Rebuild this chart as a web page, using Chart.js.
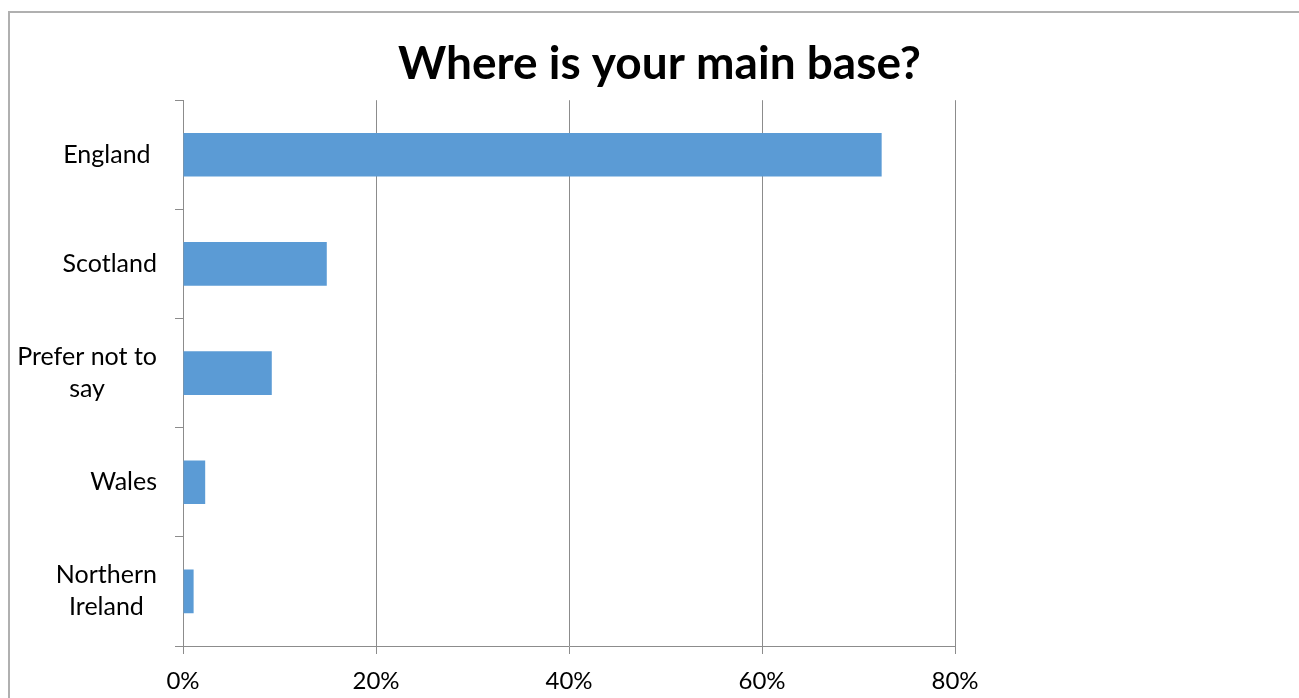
<!DOCTYPE html>
<html>
<head>
<meta charset="utf-8">
<script src="https://cdn.jsdelivr.net/npm/chart.js@4"></script>
<style>
  body { margin: 0; background: #fff; }
  #wrap { position: relative; width: 1299px; height: 698px; overflow: hidden; }
  #frame { position: absolute; left: 8px; top: 11px; width: 1400px; height: 800px;
           border-left: 2px solid #b0b0b0; border-top: 2px solid #b0b0b0; }
  canvas { position: absolute; left: 0; top: 0; }
</style>
</head>
<body>
<div id="wrap">
  <div id="frame"></div>
  <canvas id="baseChart" width="1299" height="698"></canvas>
</div>
<script>
// survey answers, top to bottom as shown
const categories = ["England ", "Scotland", ["Prefer not to", "say"], "Wales", ["Northern", "Ireland"]];
const shares = [72.4, 14.9, 9.2, 2.3, 1.1];
const tickLabels = ["0%", "20%", "40%", "60%", "80%"];

const FONT = "Lato";
const AXIS_GRAY = "#8c8c8c";

// category labels: block right-aligned, lines centred within the block
const labelPlugin = {
  id: "catLabels",
  afterDraw(chart) {
    const ctx = chart.ctx;
    const yScale = chart.scales.y;
    const rightEdge = yScale.right - 26;
    const lineH = 32;
    ctx.save();
    ctx.font = "25px '" + FONT + "'";
    ctx.fillStyle = "#000";
    ctx.textAlign = "center";
    ctx.textBaseline = "middle";
    categories.forEach((label, i) => {
      const lines = Array.isArray(label) ? label : [label];
      const maxW = Math.max(...lines.map(l => ctx.measureText(l).width));
      const cx = rightEdge - maxW / 2;
      const cy = yScale.getPixelForValue(i);
      lines.forEach((l, j) => {
        ctx.fillText(l.trim(), cx + (l !== l.trim() ? -ctx.measureText(" ").width / 2 : 0),
          cy + (j - (lines.length - 1) / 2) * lineH);
      });
    });
    ctx.restore();
  }
};

const ctx = document.getElementById("baseChart").getContext("2d");

new Chart(ctx, {
  type: "bar",
  data: {
    labels: categories,
    datasets: [{
      data: shares,
      backgroundColor: "#5B9BD5",
      categoryPercentage: 1,
      barPercentage: 0.4
    }]
  },
  options: {
    indexAxis: "y",
    responsive: false,
    animation: false,
    layout: { padding: { left: 20, right: 0, top: 0, bottom: 0 } },
    scales: {
      x: {
        min: 0,
        max: 80,
        border: { color: AXIS_GRAY, width: 1 },
        grid: { color: AXIS_GRAY, lineWidth: 1, tickLength: 8, drawOnChartArea: true },
        ticks: {
          stepSize: 20,
          padding: 13,
          color: "#000",
          font: { family: FONT, size: 24 },
          callback: (v, i) => tickLabels[i]
        },
        afterFit: s => { s.height = 52; }
      },
      y: {
        border: { color: AXIS_GRAY, width: 1 },
        grid: { color: AXIS_GRAY, tickLength: 8, drawOnChartArea: false },
        ticks: { display: false },
        afterFit: s => { s.width = 163; }
      },
      spacer: {
        type: "linear",
        position: "right",
        display: true,
        grid: { display: false },
        border: { display: false },
        ticks: { display: false },
        afterFit: s => { s.width = 344; }
      }
    },
    plugins: {
      legend: { display: false },
      tooltip: { enabled: false },
      title: {
        display: true,
        text: "Where is your main base?",
        color: "#000",
        font: { family: FONT, size: 46, weight: "bold" },
        padding: { top: 37, bottom: 8 }
      }
    }
  },
  plugins: [labelPlugin]
});
</script>
</body>
</html>
